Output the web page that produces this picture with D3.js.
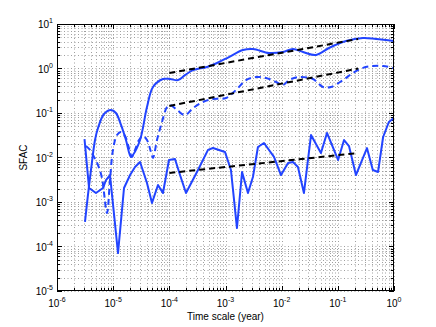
<!DOCTYPE html>
<html><head><meta charset="utf-8">
<script src="https://cdn.jsdelivr.net/npm/d3@7"></script>
<style>body{margin:0;background:#fff}svg{display:block}text{font-family:"Liberation Sans",Arial,sans-serif;fill:#000}</style>
</head><body><svg id="c" width="436" height="327"></svg>
<script>
// Solid upper curve
const aX = [3.15e-6,3.56e-6,4.03e-6,4.75e-6,5.37e-6,6.87e-6,9.14e-6,1.12e-5,1.38e-5,1.69e-5,2.07e-5,2.25e-5,3.01e-5,4.0e-5,5.12e-5,7.7e-5,1.03e-4,1.43e-4,1.9e-4,2.64e-4,4.68e-4,7.06e-4,1.15e-3,2.05e-3,3.08e-3,5.94e-3,1.05e-2,1.59e-2,2.40e-2,4.08e-2,6.95e-2,0.14,0.28,0.48,1.0];
const aY = [3.56e-4,1.44e-3,5.24e-3,0.0247,0.046,0.095,0.117,0.1,0.054,0.0247,0.0103,0.0114,0.0247,0.136,0.384,0.58,0.58,0.55,0.71,0.92,1.08,1.33,1.81,2.6,2.74,2.23,2.35,2.74,2.35,2.01,2.89,4.15,4.84,4.6,4.15];
// Dashed middle curve
const bX = [3.28e-6,3.87e-6,4.56e-6,5.37e-6,6.32e-6,7.76e-6,8.78e-6,9.93e-6,1.17e-5,1.38e-5,1.63e-5,1.91e-5,2.16e-5,2.45e-5,2.88e-5,3.40e-5,4.0e-5,4.71e-5,5.12e-5,6.03e-5,7.4e-5,9.08e-5,1.03e-4,1.37e-4,1.9e-4,2.64e-4,3.97e-4,5.98e-4,1.02e-3,1.54e-3,2.32e-3,3.49e-3,5.26e-3,7.93e-3,1.05e-2,1.35e-2,2.03e-2,3.61e-2,5.45e-2,7.55e-2,0.124,0.186,0.28,0.42,0.64,0.96];
const bY = [0.0181,0.0148,0.0103,6.78e-3,3.46e-3,5.66e-4,3.12e-3,0.0148,0.032,0.0374,0.0304,0.0163,0.0103,0.0148,0.0247,0.0304,0.0247,0.0133,9.75e-3,0.0247,0.0628,0.136,0.151,0.117,0.090,0.129,0.177,0.206,0.217,0.329,0.55,0.644,0.612,0.498,0.426,0.55,0.644,0.58,0.384,0.384,0.55,0.793,1.03,1.14,1.14,1.03];
// Solid lower (noisy) curve
const cX = [3.09e-6,3.72e-6,4.94e-6,6.59e-6,7.45e-6,8.78e-6,1.22e-5,1.56e-5,2.0e-5,2.45e-5,3.01e-5,4.0e-5,4.91e-5,6.28e-5,7.7e-5,9.86e-5,1.26e-4,1.55e-4,1.98e-4,3.24e-4,4.88e-4,5.98e-4,9.8e-4,1.25e-3,1.6e-3,1.97e-3,2.51e-3,3.08e-3,3.78e-3,4.84e-3,7.3e-3,9.73e-3,1.30e-2,1.59e-2,1.95e-2,2.49e-2,3.33e-2,5.0e-2,6.41e-2,0.101,0.129,0.158,0.21,0.33,0.42,0.52,0.64,0.81,1.0];
const cY = [0.026,2.06e-3,1.59e-3,2.06e-3,3.12e-3,4.04e-3,7.1e-5,2.06e-3,4.04e-3,6.1e-3,7.9e-3,2.67e-3,9.5e-4,2.41e-3,1.59e-3,8.8e-3,9.25e-3,4.04e-3,1.59e-3,5.24e-3,0.0148,0.0163,0.0133,5.24e-3,2.6e-4,4.72e-3,1.59e-3,3.65e-3,0.0172,0.0212,0.0103,4.04e-3,7.5e-3,7.9e-3,6.1e-3,1.59e-3,0.032,0.0126,0.0356,8.8e-3,0.0247,0.0181,4.04e-3,0.0163,5.24e-3,4.72e-3,0.0289,0.0628,0.0773];
// Black dashed power-law fits
const fitX = [1e-4, 0.23];
const fit1Y = [0.79, 4.6];
const fit2Y = [0.144, 1.0];
const fit3Y = [0.0045, 0.0126];
const xTickExp = [-6,-5,-4,-3,-2,-1,0];
const yTickExp = [-5,-4,-3,-2,-1,0,1];
const xLabel = "Time scale (year)";
const yLabel = "SFAC";

const L=57,R=394,T=24,B=291;
const svg=d3.select("#c");
const x=d3.scaleLog().domain([1e-6,1]).range([L,R]);
const y=d3.scaleLog().domain([1e-5,10]).range([B,T]);

const xMinor=[], yMinor=[];
for(let e=-6;e<0;e++) for(let k=1;k<10;k++) xMinor.push(k*Math.pow(10,e));
xMinor.push(1);
for(let e=-5;e<1;e++) for(let k=1;k<10;k++) yMinor.push(k*Math.pow(10,e));
yMinor.push(10);

const grid=svg.append("g").attr("stroke","#a0a0a0").attr("stroke-width",1).attr("stroke-dasharray","1,2.5");
grid.selectAll(".gx").data(xMinor).join("line").attr("x1",d=>Math.round(x(d))+0.5).attr("x2",d=>Math.round(x(d))+0.5).attr("y1",T).attr("y2",B);
grid.selectAll(".gy").data(yMinor).join("line").attr("y1",d=>Math.round(y(d))+0.5).attr("y2",d=>Math.round(y(d))+0.5).attr("x1",L).attr("x2",R);

const tk=svg.append("g").attr("stroke","#000").attr("stroke-width",1);
xMinor.forEach(d=>{const maj=Math.abs(Math.log10(d)-Math.round(Math.log10(d)))<1e-9;const len=maj?5:3;const px=Math.round(x(d))+0.5;
  tk.append("line").attr("x1",px).attr("x2",px).attr("y1",B).attr("y2",B-len);
  tk.append("line").attr("x1",px).attr("x2",px).attr("y1",T).attr("y2",T+len);});
yMinor.forEach(d=>{const maj=Math.abs(Math.log10(d)-Math.round(Math.log10(d)))<1e-9;const len=maj?5:3;const py=Math.round(y(d))+0.5;
  tk.append("line").attr("y1",py).attr("y2",py).attr("x1",L).attr("x2",L+len);
  tk.append("line").attr("y1",py).attr("y2",py).attr("x1",R).attr("x2",R-len);});

svg.append("defs").append("clipPath").attr("id","clip").append("rect").attr("x",L).attr("y",T).attr("width",R-L).attr("height",B-T);
const plot=svg.append("g").attr("clip-path","url(#clip)");
const blue="#2244ff";
const lineS=d3.line().x(d=>x(d[0])).y(d=>y(d[1])).curve(d3.curveCatmullRom.alpha(0.5));
const lineL=d3.line().x(d=>x(d[0])).y(d=>y(d[1]));
plot.append("path").datum(cX.map((v,i)=>[v,cY[i]])).attr("d",lineL).attr("fill","none").attr("stroke",blue).attr("stroke-width",2).attr("stroke-linejoin","round");
plot.append("path").datum(aX.map((v,i)=>[v,aY[i]])).attr("d",lineS).attr("fill","none").attr("stroke",blue).attr("stroke-width",2);
plot.append("path").datum(bX.map((v,i)=>[v,bY[i]])).attr("d",lineS).attr("fill","none").attr("stroke",blue).attr("stroke-width",2).attr("stroke-dasharray","6,4");
[fit1Y,fit2Y,fit3Y].forEach(fy=>{
  plot.append("path").datum(fitX.map((v,i)=>[v,fy[i]])).attr("d",lineL).attr("fill","none").attr("stroke","#000").attr("stroke-width",2).attr("stroke-dasharray","6,4");
});

svg.append("rect").attr("x",L+0.5).attr("y",T+0.5).attr("width",R-L-1).attr("height",B-T-1).attr("fill","none").attr("stroke","#000").attr("stroke-width",1);

xTickExp.forEach(e=>{const t=svg.append("text").attr("x",x(Math.pow(10,e))).attr("y",307).attr("text-anchor","middle").attr("font-size",10);
  t.append("tspan").text("10"); t.append("tspan").attr("dy",-5).attr("font-size",7).text(String(e));});
yTickExp.forEach(e=>{const t=svg.append("text").attr("x",53).attr("y",y(Math.pow(10,e))+4).attr("text-anchor","end").attr("font-size",10);
  t.append("tspan").text("10"); t.append("tspan").attr("dy",-5).attr("font-size",7).text(String(e));});

svg.append("text").attr("x",(L+R)/2).attr("y",320).attr("text-anchor","middle").attr("font-size",10).text(xLabel);
svg.append("text").attr("transform",`translate(27,${(T+B)/2}) rotate(-90)`).attr("text-anchor","middle").attr("font-size",10).text(yLabel);
</script></body></html>
